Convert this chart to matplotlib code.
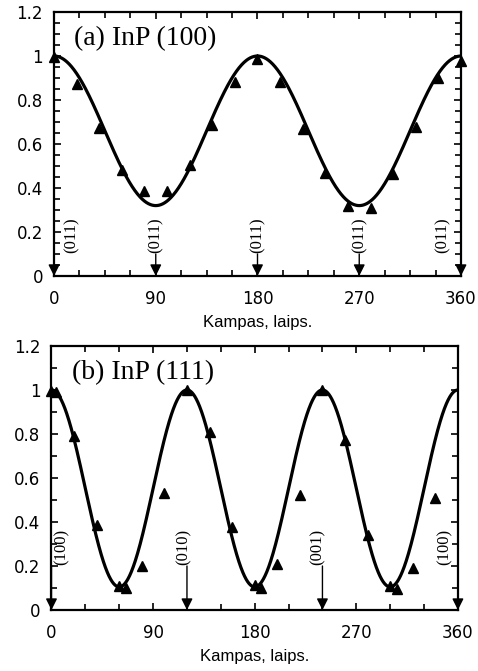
import numpy as np
import matplotlib.pyplot as plt
from matplotlib.ticker import MultipleLocator

# (a) InP (100) - matavimai
kampas_a = np.array([0, 20, 40, 60, 80, 100, 120, 140, 160, 180,
                     200, 220, 240, 260, 280, 300, 320, 340, 360])
intens_a = np.array([0.995, 0.873, 0.674, 0.482, 0.388, 0.388, 0.505, 0.686, 0.883, 0.985,
                     0.883, 0.667, 0.470, 0.318, 0.308, 0.464, 0.679, 0.899, 0.979])

# (b) InP (111) - matavimai
kampas_b = np.array([0, 4, 20, 40, 60, 66, 80, 100, 120, 140, 160,
                     180, 186, 200, 220, 240, 260, 280, 300, 306, 320, 340])
intens_b = np.array([0.995, 0.99, 0.791, 0.386, 0.109, 0.098, 0.200, 0.530, 1.0, 0.810, 0.379,
                     0.114, 0.101, 0.208, 0.523, 1.0, 0.773, 0.341, 0.109, 0.094, 0.190, 0.508])

# teorines kreives parametrai: max, min, periodas (laipsniais)
kreive_a = (1.0, 0.32, 180)
kreive_b = (1.0, 0.105, 120)

# kristalografines kryptys (rodykles)
kryptys_a = [0, 90, 180, 270, 360]
zymes_a = ['(011)', '(011)', '(011)', '(011)', '(011)']
kryptys_b = [0, 120, 240, 360]
zymes_b = ['(100)', '(010)', '(001)', '(100)']

y_ticks = [0, 0.2, 0.4, 0.6, 0.8, 1.0, 1.2]
y_tick_labels = ['0', '0.2', '0.4', '0.6', '0.8', '1', '1.2']
x_ticks = [0, 90, 180, 270, 360]


def teorine(theta, ymax, ymin, periodas):
    return ymin + (ymax - ymin) * (1 + np.cos(2 * np.pi * theta / periodas)) / 2


fig = plt.figure(figsize=(4.78, 6.71), dpi=100)
ax1 = fig.add_axes([0.113, 0.5887, 0.8514, 0.3934])
ax2 = fig.add_axes([0.1077, 0.0909, 0.8503, 0.3935])

theta = np.linspace(0, 360, 1441)


def piesti(ax, kampas, intens, kreive, kryptys, zymes, pavadinimas,
           x_minor, y_minor, zymiu_x, rodykles_ilgis):
    ax.plot(theta, teorine(theta, *kreive), color='black', linewidth=2.3, zorder=3)
    ax.plot(kampas, intens, linestyle='None', marker='^', color='black',
            markersize=7.5, zorder=4, clip_on=False)

    for x, zx, z in zip(kryptys, zymiu_x, zymes):
        ax.annotate('', xy=(x, 0), xytext=(x, rodykles_ilgis),
                    arrowprops=dict(arrowstyle='-|>', color='black', lw=1.0,
                                    mutation_scale=17, shrinkA=0, shrinkB=0),
                    annotation_clip=False)
        ax.text(zx, rodykles_ilgis + 0.005, z, rotation=90, ha='center', va='bottom',
                fontsize=12, family='Liberation Serif')

    ax.text(0.05, 0.945, pavadinimas, transform=ax.transAxes, ha='left', va='top',
            fontsize=20, family='Liberation Serif')

    ax.set_xlim(0, 360)
    ax.set_ylim(0, 1.2)
    ax.set_xticks(x_ticks)
    ax.set_yticks(y_ticks)
    ax.set_yticklabels(y_tick_labels)
    ax.xaxis.set_minor_locator(MultipleLocator(x_minor))
    ax.yaxis.set_minor_locator(MultipleLocator(y_minor))
    ax.tick_params(which='both', direction='in', top=True, right=True, width=1.2)
    ax.tick_params(which='major', length=5, labelsize=12)
    ax.tick_params(which='minor', length=4)
    ax.tick_params(axis='x', pad=10)
    ax.tick_params(axis='y', pad=8)
    for lbl in ax.get_xticklabels() + ax.get_yticklabels():
        lbl.set_family('DejaVu Sans')
    for s in ax.spines.values():
        s.set_linewidth(1.6)
    ax.set_xlabel('Kampas, laips.', fontsize=12, family='Liberation Sans', labelpad=5)


piesti(ax1, kampas_a, intens_a, kreive_a, kryptys_a, zymes_a, '(a) InP (100)',
       22.5, 0.05, [16, 90, 180, 270, 344], 0.1)
piesti(ax2, kampas_b, intens_b, kreive_b, kryptys_b, zymes_b, '(b) InP (111)',
       30, 0.1, [9, 117, 236, 348], 0.2)

fig.savefig('out.png', dpi=100)
